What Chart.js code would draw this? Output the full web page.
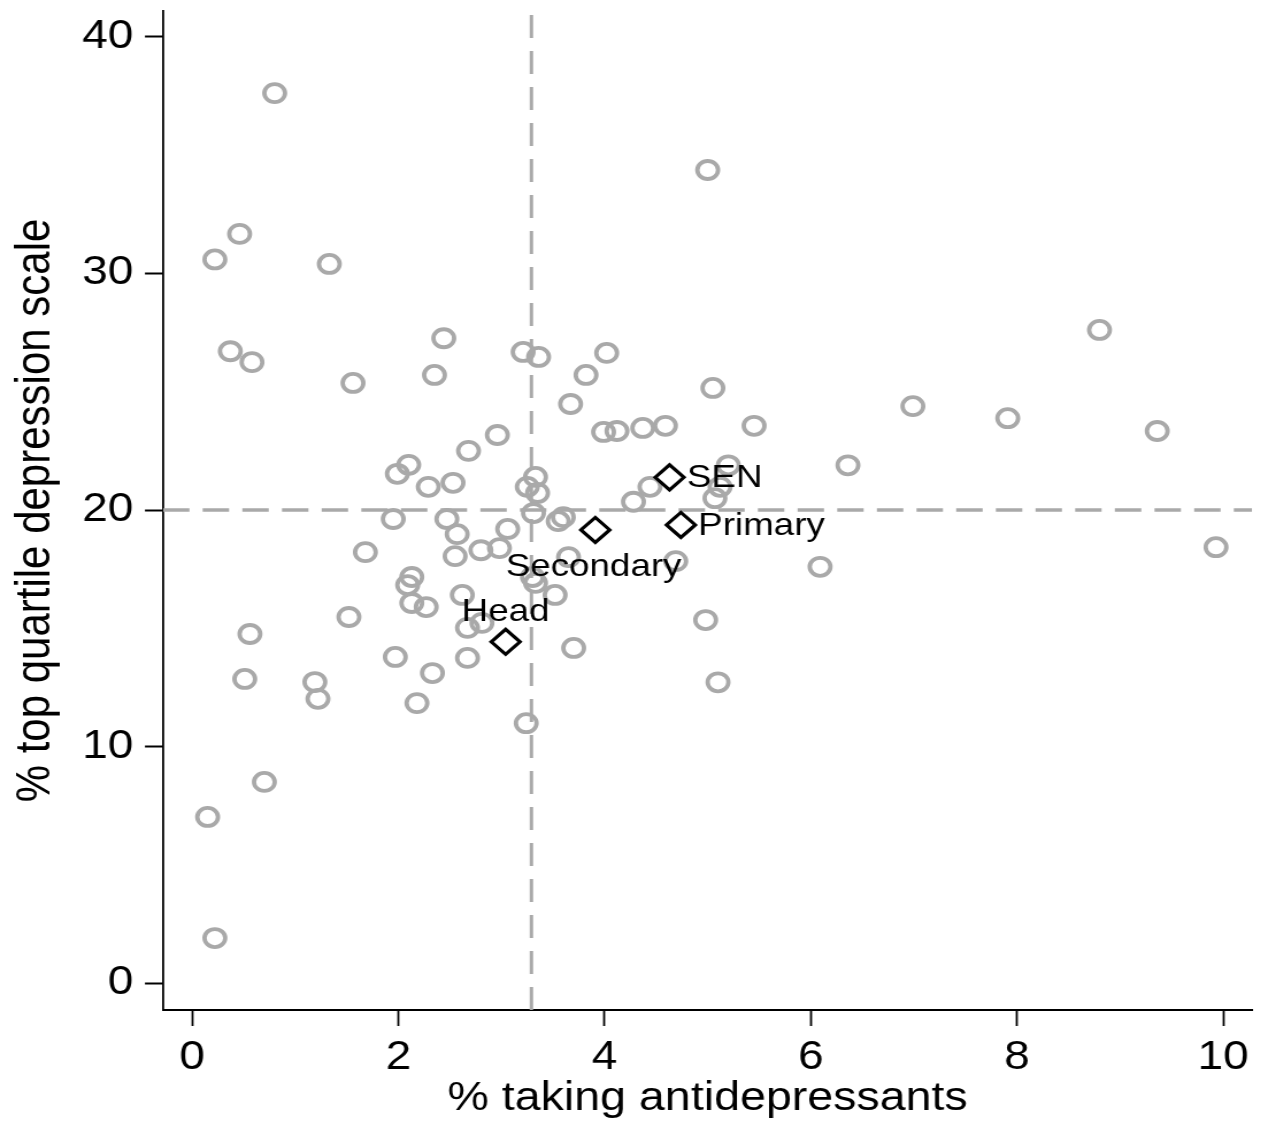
<!DOCTYPE html>
<html>
<head>
<meta charset="utf-8">
<script src="https://cdn.jsdelivr.net/npm/chart.js@4.4.1/dist/chart.umd.min.js"></script>
<style>
html,body{margin:0;padding:0;background:#fff;overflow:hidden;}
#wrap{width:1110px;height:1127px;transform:scaleX(1.14955);transform-origin:0 0;}
canvas{display:block;}
</style>
</head>
<body>
<div id="wrap"><canvas id="c" width="1110" height="1127"></canvas></div>
<script>
// ---- data ----
const schoolX = [0.80,5.00,0.22,0.46,1.33,0.37,0.58,8.80,2.44,3.21,3.36,4.02,1.56,2.35,3.82,5.05,3.67,6.99,7.91,3.99,
  4.12,4.37,4.59,5.45,9.36,2.96,2.68,1.99,2.10,2.29,2.53,3.33,3.25,3.35,6.36,5.20,5.12,5.07,4.44,4.28,
  1.95,2.47,2.57,3.06,3.31,3.55,3.60,1.68,2.55,2.80,2.98,3.65,4.69,2.13,2.09,3.30,3.33,3.52,2.62,2.13,
  2.27,1.52,2.67,2.81,3.70,1.97,2.67,2.33,2.18,3.24,5.10,0.56,0.51,1.19,1.22,0.70,0.15,0.22,9.93,6.09,4.98];
const schoolY = [37.62,34.37,30.59,31.67,30.40,26.71,26.25,27.61,27.26,26.68,26.47,26.64,25.37,25.71,25.71,25.16,24.48,24.39,23.88,23.30,
  23.34,23.47,23.56,23.56,23.34,23.17,22.50,21.53,21.91,20.98,21.15,21.40,20.98,20.72,21.89,21.89,20.98,20.50,20.98,20.35,
  19.62,19.62,18.98,19.20,19.87,19.53,19.70,18.22,18.05,18.30,18.39,18.01,17.84,17.17,16.83,17.17,16.92,16.41,16.41,16.07,
  15.90,15.48,15.02,15.23,14.17,13.79,13.75,13.11,11.84,10.99,12.72,14.76,12.86,12.73,12.02,8.51,7.03,1.91,18.43,17.60,15.35];
const groupNames = ['SEN','Primary','Secondary','Head'];
const groupX = [4.63,4.74,3.91,3.04];
const groupY = [21.38,19.37,19.16,14.43];
const groupLabelClock = [3,3,6,12];
const xTicks = [0,2,4,6,8,10];
const yTicks = [0,10,20,30,40];
const xRange = [-0.283,10.28];
const yRange = [-1.13,41.09];
const meanX = 3.29;
const meanY = 20;

const FAM = '"Liberation Sans", Arial, Helvetica, sans-serif';
const GRAY = '#a9a9a9';

const schoolPts = schoolX.map((x,i)=>({x:x,y:schoolY[i]}));
const groupPts = groupX.map((x,i)=>({x:x,y:groupY[i]}));

const labelPlugin = {
  id:'grpLabels',
  afterDatasetsDraw(chart){
    const meta = chart.getDatasetMeta(3);
    const ctx = chart.ctx;
    ctx.save();
    ctx.font = '32px ' + FAM;
    ctx.fillStyle = '#000';
    ctx.textBaseline = 'middle';
    meta.data.forEach((pt,i)=>{
      const pos = groupLabelClock[i];
      if(pos===3){ ctx.textAlign='left'; ctx.fillText(groupNames[i], pt.x+15, pt.y+1); }
      else if(pos===6){ ctx.textAlign='center'; ctx.fillText(groupNames[i], pt.x-1.5, pt.y+37); }
      else { ctx.textAlign='center'; ctx.fillText(groupNames[i], pt.x, pt.y-30); }
    });
    ctx.restore();
  }
};

new Chart(document.getElementById('c'), {
  type:'scatter',
  data:{
    datasets:[
      {type:'line', data:[{x:meanX,y:yRange[0]},{x:meanX,y:yRange[1]}], borderColor:GRAY, borderWidth:3,
        borderDash:[23,13], pointRadius:0, fill:false, order:4},
      {type:'line', data:[{x:xRange[0],y:meanY},{x:xRange[1],y:meanY}], borderColor:GRAY, borderWidth:3.5,
        borderDash:[23,11.5], pointRadius:0, fill:false, order:3},
      {data:schoolPts, pointStyle:'circle', pointRadius:9, pointBorderWidth:3.8, pointBorderColor:GRAY,
        pointBackgroundColor:'rgba(0,0,0,0)', order:2},
      {data:groupPts, pointStyle:'rectRot', pointRadius:12.5, pointBorderWidth:3.2, pointBorderColor:'#000',
        pointBackgroundColor:'rgba(0,0,0,0)', order:1}
    ]
  },
  options:{
    responsive:false, animation:false, events:[],
    layout:{autoPadding:false, padding:{top:11,right:20.8,bottom:0,left:0}},
    plugins:{legend:{display:false}, tooltip:{enabled:false}},
    scales:{
      x:{type:'linear', min:xRange[0], max:xRange[1],
        afterBuildTicks:s=>{ s.ticks = xTicks.map(v=>({value:v})); },
        afterFit:s=>{ s.height = 117; s.paddingLeft=0; s.paddingRight=0; s.paddingTop=0; s.paddingBottom=0; },
        grid:{display:true, drawOnChartArea:false, drawTicks:true, tickLength:16, tickWidth:1.8, tickColor:'#000'},
        border:{display:true, color:'#000', width:2},
        ticks:{font:{family:FAM,size:40}, color:'#000', padding:8, maxRotation:0, autoSkip:false, callback:v=>String(v)},
        title:{display:true, text:'% taking antidepressants', font:{family:FAM,size:40.5}, color:'#000', padding:{top:0,bottom:4}}
      },
      y:{type:'linear', min:yRange[0], max:yRange[1],
        afterBuildTicks:s=>{ s.ticks = yTicks.map(v=>({value:v})); },
        afterFit:s=>{ s.width = 141.8; s.paddingLeft=0; s.paddingRight=0; s.paddingTop=0; s.paddingBottom=0; },
        grid:{display:true, drawOnChartArea:false, drawTicks:true, tickLength:15.7, tickWidth:2, tickColor:'#000'},
        border:{display:true, color:'#000', width:1.8},
        ticks:{font:{family:FAM,size:40}, color:'#000', padding:10, autoSkip:false, callback:v=>String(v)},
        title:{display:true, text:'% top quartile depression scale', font:{family:FAM,size:42}, color:'#000', padding:{top:6,bottom:0}}
      }
    }
  },
  plugins:[labelPlugin]
});
</script>
</body>
</html>
